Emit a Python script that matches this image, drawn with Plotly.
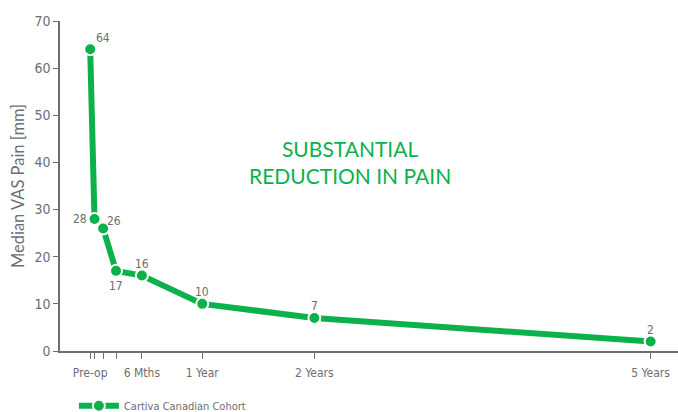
import plotly.graph_objects as go

# Follow-up time points (weeks after surgery) and median VAS pain scores
weeks = [0, 2, 6, 12, 24, 52, 104, 260]
median_vas = [64, 28, 26, 17, 16, 10, 7, 2]
# pixel offsets of each value label relative to its point
label_dx = [13, -14, 11, 0, 0, 0, 0, 0]
label_dy = [11, 0, 7, -15, 12, 12, 12, 12]

tick_vals = [0, 2, 6, 12, 24, 52, 104, 260]
tick_text = ["Pre-op", "", "", "", "6 Mths", "1 Year", "2 Years", "5 Years"]
y_ticks = [0, 10, 20, 30, 40, 50, 60, 70]

GREEN = "#0db14b"
GREY = "#6d6e71"
NARROW = "Liberation Sans Narrow, DejaVu Sans Condensed, sans-serif"

fig = go.Figure()
fig.add_trace(go.Scatter(
    x=weeks,
    y=median_vas,
    mode="lines+markers",
    name="Cartiva Canadian Cohort",
    line=dict(color=GREEN, width=6),
    marker=dict(color=GREEN, size=12, line=dict(color="white", width=2)),
    cliponaxis=False,
))

for xv, yv, dx, dy in zip(weeks, median_vas, label_dx, label_dy):
    fig.add_annotation(
        x=xv, y=yv, text=str(yv), showarrow=False,
        xanchor="center", yanchor="middle", xshift=dx, yshift=dy,
        font=dict(family=NARROW, size=12, color=GREY),
    )

fig.add_annotation(
    x=0.470, y=0.573, xref="paper", yref="paper",
    text="SUBSTANTIAL<br>REDUCTION IN PAIN",
    showarrow=False,
    font=dict(family="Lato, sans-serif", size=21, color=GREEN),
    align="center",
)

fig.update_layout(
    width=678,
    height=412,
    margin=dict(l=60, r=0, t=21, b=61),
    paper_bgcolor="white",
    plot_bgcolor="white",
    showlegend=True,
    legend=dict(
        orientation="h",
        xref="container", yref="container",
        x=0.109, y=0.015, xanchor="left", yanchor="middle",
        font=dict(family=NARROW, size=11, color=GREY),
        itemwidth=40,
    ),
    xaxis=dict(
        range=[-14.0, 272.7],
        tickvals=tick_vals,
        ticktext=tick_text,
        ticks="outside",
        ticklen=6,
        tickcolor=GREY,
        showline=True,
        linecolor=GREY,
        linewidth=1.5,
        showgrid=False,
        zeroline=False,
        ticklabelstandoff=4,
        tickfont=dict(family=NARROW, size=12, color=GREY),
    ),
    yaxis=dict(
        range=[0, 70],
        tickvals=y_ticks,
        ticks="outside",
        ticklen=5,
        tickcolor=GREY,
        showline=True,
        linecolor=GREY,
        linewidth=1.5,
        showgrid=False,
        zeroline=False,
        tickfont=dict(family=NARROW, size=14, color=GREY),
        title=dict(text="Median VAS Pain [mm]",
                   font=dict(family="Lato, sans-serif", size=16.5, color=GREY),
                   standoff=6),
    ),
)

fig.write_html("out.html")
